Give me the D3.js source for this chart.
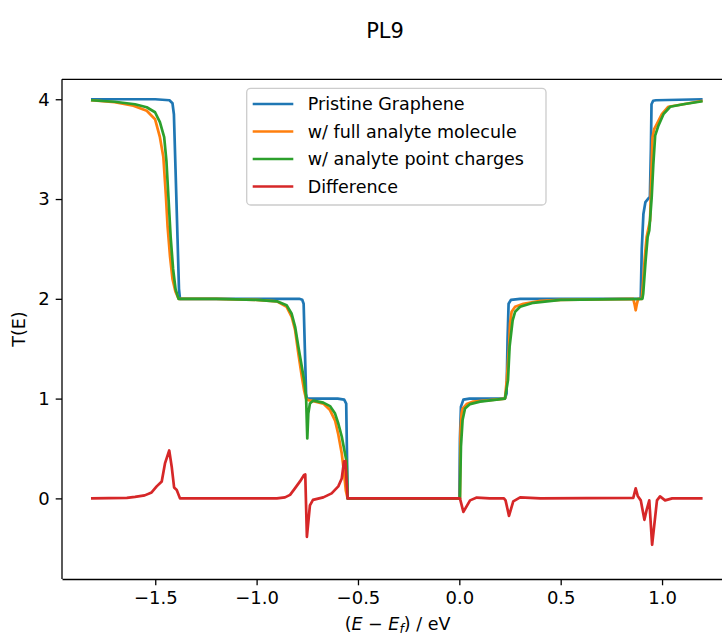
<!DOCTYPE html>
<html>
<head>
<meta charset="utf-8">
<script src="https://cdn.jsdelivr.net/npm/d3@7"></script>
<style>
  body { margin: 0; background: #fff; }
  svg text { font-family: "DejaVu Sans", sans-serif; fill: #000; }
</style>
</head>
<body>
<div id="chart"></div>
<script>
// T(E) curves as [E, T] pairs
var pristine = [[-1.817,4.0],[-1.5,4.0],[-1.43,3.99],[-1.415,3.96],[-1.408,3.85],[-1.4,3.3],[-1.39,2.6],[-1.383,2.1],[-1.378,2.0],
  [-1.0,2.0],[-0.79,2.0],[-0.775,1.99],[-0.768,1.95],[-0.762,1.5],[-0.756,1.05],[-0.752,1.0],[-0.6,1.0],[-0.568,0.99],
  [-0.558,0.95],[-0.554,0.4],[-0.551,0.0],[0.0,0.0],[0.003,0.6],[0.008,0.92],[0.02,0.99],[0.05,1.0],[0.225,1.0],
  [0.233,1.05],[0.238,1.6],[0.243,1.95],[0.255,1.99],[0.3,2.0],[0.89,2.0],[0.895,2.02],[0.9,2.5],[0.908,2.85],
  [0.918,2.97],[0.93,3.0],[0.94,3.02],[0.945,3.5],[0.948,3.95],[0.956,3.985],[0.97,3.99],[1.2,4.0]];

var fullMolecule = [[-1.817,3.99],[-1.7,3.97],[-1.608,3.935],[-1.542,3.885],[-1.501,3.80],[-1.477,3.62],[-1.46,3.42],
  [-1.448,3.05],[-1.439,2.72],[-1.427,2.42],[-1.415,2.2],[-1.4,2.07],[-1.385,2.0],[-1.2,2.0],[-1.0,1.99],[-0.9,1.975],
  [-0.852,1.92],[-0.827,1.82],[-0.81,1.685],[-0.794,1.45],[-0.777,1.22],[-0.766,1.085],[-0.756,1.0],[-0.745,0.985],
  [-0.72,0.975],[-0.671,0.95],[-0.638,0.885],[-0.613,0.78],[-0.597,0.64],[-0.58,0.45],[-0.57,0.28],[-0.56,0.08],
  [-0.551,0.0],[0.003,0.0],[0.006,0.685],[0.011,0.85],[0.016,0.9],[0.036,0.945],[0.069,0.97],[0.15,0.985],[0.225,1.0],
  [0.234,1.185],[0.245,1.52],[0.25,1.75],[0.258,1.87],[0.275,1.92],[0.316,1.95],[0.4,1.98],[0.5,1.99],[0.858,2.0],
  [0.864,1.95],[0.870,1.885],[0.876,1.95],[0.882,2.0],[0.9,2.0],[0.907,2.185],[0.915,2.42],[0.924,2.62],[0.932,2.70],
  [0.941,2.785],[0.946,3.185],[0.953,3.62],[0.961,3.70],[0.974,3.75],[0.999,3.85],[1.031,3.925],[1.105,3.95],[1.2,3.985]];

var pointCharges = [[-1.817,3.99],[-1.7,3.975],[-1.6,3.95],[-1.542,3.92],[-1.501,3.87],[-1.477,3.77],[-1.456,3.62],
  [-1.445,3.385],[-1.434,2.985],[-1.424,2.62],[-1.412,2.3],[-1.4,2.1],[-1.385,2.0],[-1.2,2.0],[-1.0,1.99],[-0.9,1.975],
  [-0.852,1.935],[-0.827,1.85],[-0.81,1.72],[-0.794,1.52],[-0.777,1.32],[-0.766,1.185],[-0.756,1.02],[-0.75,0.6],
  [-0.745,0.85],[-0.737,0.95],[-0.72,0.98],[-0.671,0.96],[-0.638,0.925],[-0.613,0.85],[-0.597,0.75],[-0.58,0.62],
  [-0.564,0.45],[-0.556,0.37],[-0.551,0.0],[0.003,0.0],[0.008,0.52],[0.016,0.785],[0.028,0.9],[0.053,0.945],
  [0.102,0.97],[0.225,1.0],[0.24,1.185],[0.248,1.52],[0.263,1.785],[0.275,1.87],[0.3,1.92],[0.365,1.96],[0.5,1.99],
  [0.903,2.0],[0.907,2.05],[0.919,2.385],[0.929,2.62],[0.937,2.685],[0.949,3.02],[0.957,3.35],[0.966,3.635],
  [0.982,3.735],[1.007,3.85],[1.04,3.925],[1.105,3.95],[1.2,3.98]];

var difference = [[-1.817,0],[-1.64,0.005],[-1.6,0.015],[-1.552,0.03],[-1.518,0.06],[-1.493,0.12],[-1.468,0.17],
  [-1.452,0.35],[-1.431,0.48],[-1.419,0.32],[-1.407,0.11],[-1.394,0.085],[-1.378,0],[-0.9,0],[-0.86,0.01],
  [-0.835,0.035],[-0.811,0.10],[-0.786,0.17],[-0.766,0.235],[-0.76,0.24],[-0.752,-0.385],[-0.737,-0.07],
  [-0.722,-0.015],[-0.671,0.01],[-0.63,0.05],[-0.597,0.12],[-0.58,0.2],[-0.569,0.37],[-0.562,0.375],[-0.551,0],
  [0.003,0],[0.02,-0.135],[0.053,-0.02],[0.086,0.008],[0.15,0],[0.22,0],[0.228,-0.02],[0.245,-0.175],[0.266,-0.03],
  [0.3,0.01],[0.4,0],[0.858,0.005],[0.870,0.1],[0.880,0.025],[0.895,-0.02],[0.913,-0.215],[0.924,-0.115],
  [0.937,-0.02],[0.951,-0.465],[0.975,-0.02],[0.99,0.02],[1.015,-0.02],[1.05,0],[1.2,0]];

var seriesNames = ["Pristine Graphene", "w/ full analyte molecule", "w/ analyte point charges", "Difference"];
var xTicks = [-1.5, -1.0, -0.5, 0.0, 0.5, 1.0];
var yTicks = [0, 1, 2, 3, 4];

var width = 722, height = 635;
var colors = ["#1f77b4", "#ff7f0e", "#2ca02c", "#d62728"];

var svg = d3.select("#chart").append("svg")
    .attr("width", width)
    .attr("height", height);

// axes box runs past the right edge of the picture
var plotLeft = 62, plotRight = 733, plotTop = 79.3, plotBottom = 579;

var x = d3.scaleLinear().domain([-1.96, 1.35]).range([plotLeft, plotRight]);
var y = d3.scaleLinear().domain([-0.808, 4.2]).range([plotBottom, plotTop]);

var line = d3.line()
    .x(function(d) { return x(d[0]); })
    .y(function(d) { return y(d[1]); });

var series = [pristine, fullMolecule, pointCharges, difference];

svg.append("g")
    .selectAll("path")
    .data(series)
    .enter()
    .append("path")
    .attr("d", line)
    .attr("fill", "none")
    .attr("stroke", function(d, i) { return colors[i]; })
    .attr("stroke-width", 2.7)
    .attr("stroke-linejoin", "round");

// spines
svg.append("line").attr("x1", plotLeft).attr("x2", plotLeft).attr("y1", plotTop).attr("y2", plotBottom)
    .attr("stroke", "#000").attr("stroke-width", 1.3);
svg.append("line").attr("x1", plotLeft).attr("x2", plotRight).attr("y1", plotTop).attr("y2", plotTop)
    .attr("stroke", "#000").attr("stroke-width", 1.3);

var xAxis = svg.append("g")
    .attr("transform", "translate(0," + plotBottom + ")")
    .call(d3.axisBottom(x).tickValues(xTicks).tickSize(6.3).tickSizeOuter(0).tickPadding(6)
        .tickFormat(function(d) { return d3.format(".1f")(d).replace("-", "\u2212"); }));

var yAxis = svg.append("g")
    .attr("transform", "translate(" + plotLeft + ",0)")
    .call(d3.axisLeft(y).tickValues(yTicks).tickSize(6.3).tickSizeOuter(0).tickPadding(6)
        .tickFormat(d3.format("d")));

[xAxis, yAxis].forEach(function(a) {
    a.select(".domain").attr("stroke", "#000").attr("stroke-width", 1.3);
    a.selectAll(".tick line").attr("stroke", "#000").attr("stroke-width", 1.3);
    a.selectAll(".tick text")
        .attr("font-family", "DejaVu Sans, sans-serif")
        .attr("font-size", "18px")
        .attr("fill", "#000");
});
yAxis.select(".domain").remove();

// title
svg.append("text")
    .attr("x", 385)
    .attr("y", 38)
    .attr("text-anchor", "middle")
    .attr("font-size", "21px")
    .text("PL9");

// y label
svg.append("text")
    .attr("transform", "translate(25,329) rotate(-90)")
    .attr("text-anchor", "middle")
    .attr("font-size", "17.5px")
    .text("T(E)");

// x label
var xl = svg.append("text")
    .attr("x", (plotLeft + plotRight) / 2)
    .attr("y", 630)
    .attr("text-anchor", "middle")
    .attr("font-size", "17.5px");
xl.append("tspan").text("(");
xl.append("tspan").attr("font-style", "italic").text("E");
xl.append("tspan").text(" \u2212 ");
xl.append("tspan").attr("font-style", "italic").text("E");
xl.append("tspan").attr("font-style", "italic").attr("font-size", "12.5px").attr("dy", 3).text("f");
xl.append("tspan").attr("dy", -3).text(") / eV");

// legend
var legend = svg.append("g").attr("transform", "translate(246.7,88.3)");
legend.append("rect")
    .attr("width", 299.3)
    .attr("height", 116.7)
    .attr("rx", 4)
    .attr("fill", "#fff")
    .attr("fill-opacity", 0.8)
    .attr("stroke", "#cccccc")
    .attr("stroke-width", 1.3);

var rows = legend.selectAll("g.row")
    .data(seriesNames)
    .enter()
    .append("g")
    .attr("class", "row")
    .attr("transform", function(d, i) { return "translate(0," + (15.7 + i * 27.5) + ")"; });

rows.append("line")
    .attr("x1", 6).attr("x2", 46.6)
    .attr("stroke", function(d, i) { return colors[i]; })
    .attr("stroke-width", 2.7);

rows.append("text")
    .attr("x", 61)
    .attr("dy", "0.35em")
    .attr("font-size", "17.5px")
    .text(function(d) { return d; });
</script>
</body>
</html>
